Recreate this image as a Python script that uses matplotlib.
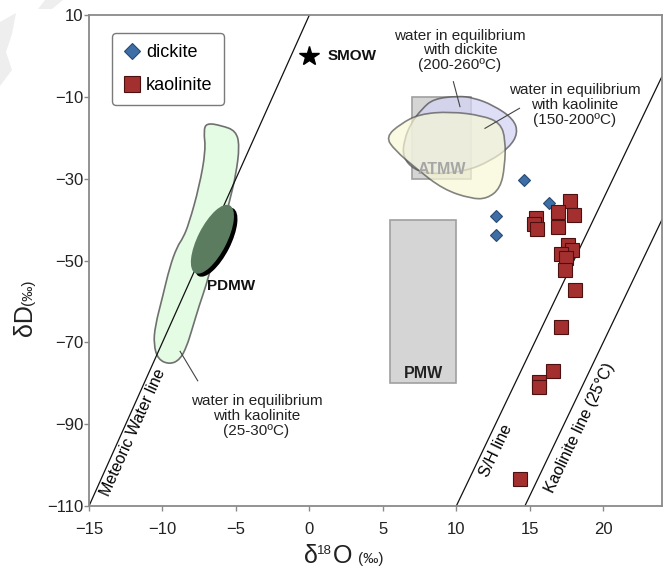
import numpy as np
import matplotlib
matplotlib.use("Agg")
import matplotlib.pyplot as plt
import matplotlib.transforms as mtransforms
from matplotlib.path import Path
from matplotlib.patches import PathPatch, Ellipse, Rectangle, Polygon
from matplotlib.lines import Line2D

plt.rcParams['font.family'] = ['Liberation Sans', 'DejaVu Sans']

# measured samples (d18O, dD), permil
dickite_d18O = [14.6, 16.3, 12.7, 12.7]
dickite_dD = [-30.3, -36.0, -39.1, -43.8]

kaolinite_d18O = [17.75, 18.0, 16.95, 16.9, 15.4, 15.3, 15.5, 17.6, 17.9, 17.1,
                  17.45, 17.4, 18.1, 17.1, 16.6, 15.6, 15.6, 14.35]
kaolinite_dD = [-35.5, -38.9, -38.2, -41.9, -39.7, -41.2, -42.4, -46.1, -47.5, -48.5,
                -49.5, -52.2, -57.1, -66.2, -77.0, -79.6, -80.9, -103.3]

# reference lines: dD = slope * d18O + intercept
mwl = (8.0, 10.0)
sh_line = (7.5, -185.0)
kaol_line = (7.5, -220.0)

# fields (outline points)
green_x = [-7.0, -6.0, -5.0, -4.75, -5.0, -5.4, -5.9, -6.5, -7.0, -7.5, -8.0, -8.35,
           -8.8, -9.5, -10.3, -10.6, -10.5, -10.0, -9.5, -9.0, -8.6, -8.2, -7.5, -7.05, -7.2]
green_y = [-16.4, -17.0, -18.3, -22, -29, -35, -42, -49, -55.8, -61, -67, -71,
           -74.2, -75.4, -74.2, -70.5, -66, -59, -51.5, -46.6, -44.5, -41, -32, -23, -18.3]

blue_x = [7.65, 8.44, 10.1, 11.15, 12.5, 13.9, 14.2, 13.6, 12.3, 10.7, 8.44, 7.1, 6.35, 6.45, 6.9]
blue_y = [-13.0, -10.5, -9.8, -10.2, -12.0, -15.4, -18.9, -22.4, -25.7, -28.1, -29.0, -27.8, -24.6, -20.6, -16.5]

yellow_x = [5.2, 6.2, 7.5, 9.6, 11.8, 13.0, 13.35, 13.3, 13.0, 12.1, 11.0, 9.1, 7.3, 5.8]
yellow_y = [-19.8, -16.6, -14.2, -13.6, -14.6, -16.4, -20.5, -27, -32.3, -34.9, -34.9, -32.6, -27.6, -23]

atmw_box = (7.0, -30.0, 11.0, -10.0)
pmw_box = (5.5, -80.0, 10.0, -40.0)
pdmw_center = (-6.6, -44.8)


def smooth_patch(xs, ys, **kw):
    pts = np.column_stack([xs, ys])
    mids = (pts + np.roll(pts, -1, axis=0)) / 2
    verts = [mids[-1]]
    codes = [Path.MOVETO]
    for p, m in zip(pts, mids):
        verts += [p, m]
        codes += [Path.CURVE3, Path.CURVE3]
    return PathPatch(Path(verts, codes), **kw)


W, H = 670, 568
fig = plt.figure(figsize=(W / 100, H / 100), dpi=100)
ax = fig.add_axes([89 / W, 1 - 506 / H, (662 - 89) / W, (506 - 15) / H])
ax.set_xlim(-15, 24)
ax.set_ylim(-110, 10)

# watermark remnants in the corner
for poly in ([(45, 0), (63, 0), (52, 9), (38, 9)],
             [(0, 22), (16, 13), (12, 34), (6, 52), (12, 70), (0, 86)]):
    fig.patches.append(Polygon([(x / W, 1 - y / H) for x, y in poly], closed=True,
                               transform=fig.transFigure, fc='#eeeeee', ec='none', zorder=0))

# boxes
for (x0, y0, x1, y1) in (atmw_box, pmw_box):
    ax.add_patch(Rectangle((x0, y0), x1 - x0, y1 - y0, fc='#d5d5d5', ec='#a0a0a0', lw=1.2, zorder=1))
ax.text(9.0, -27.8, 'ATMW', ha='center', va='center', fontsize=11.5, fontweight='bold',
        color='#a6a6a6', zorder=2.2)
ax.text(7.75, -77.6, 'PMW', ha='center', va='center', fontsize=11.5, fontweight='bold', color='#222222', zorder=1.5)

ax.add_patch(smooth_patch(blue_x, blue_y, fc='#d3d3f5', ec='#505050', lw=1.2, alpha=0.75, zorder=2))
ax.add_patch(smooth_patch(yellow_x, yellow_y, fc='#f8f8d6', ec='#505050', lw=1.2, alpha=0.7, zorder=2.1))
ax.add_patch(smooth_patch(green_x, green_y, fc='#e4fbe4', ec='#707070', lw=1.2, zorder=1))

# lines
xx = np.array([-15.0, 24.0])
for slope, icpt in (mwl, sh_line, kaol_line):
    ax.plot(xx, slope * xx + icpt, color='#111111', lw=0.9, zorder=2.5)

# PDMW ellipse with black shadow
for off, col in (((0.035, -0.03), 'black'), ((0.0, 0.0), '#5b7c5e')):
    tr = (mtransforms.Affine2D().translate(*off) + fig.dpi_scale_trans
          + mtransforms.ScaledTranslation(pdmw_center[0], pdmw_center[1], ax.transData))
    ax.add_patch(Ellipse((0, 0), 0.29, 0.76, angle=-27, transform=tr, fc=col, ec='none', zorder=3))
ax.text(-7.0, -56.2, 'PDMW', ha='left', va='center', fontsize=11, fontweight='bold', color='#111111', zorder=4)

# line labels
ax.text(-12.0, -92.0, 'Meteoric Water line', rotation=np.degrees(np.arctan(mwl[0])),
        transform_rotates_text=True, rotation_mode='anchor', ha='center', va='center', fontsize=11.5)
ax.text(12.74, -96.5, 'S/H line', rotation=np.degrees(np.arctan(sh_line[0])),
        transform_rotates_text=True, rotation_mode='anchor', ha='center', va='center', fontsize=11.5)
ax.text(18.4, -90.8, 'Kaolinite line (25°C)', rotation=np.degrees(np.arctan(kaol_line[0])),
        transform_rotates_text=True, rotation_mode='anchor', ha='center', va='center', fontsize=11.5)

# SMOW
ax.plot([0.0], [0.0], marker='*', ms=15, color='black', ls='none', zorder=5)
ax.text(1.25, 0.0, 'SMOW', ha='left', va='center', fontsize=11, fontweight='bold', color='#111111')

# annotations
ax.text(10.25, 1.4, 'water in equilibrium\nwith dickite\n(200-260ºC)', ha='center', va='center',
        fontsize=11, linespacing=1.05, color='#222222')
ax.plot([9.8, 10.25], [-6.3, -12.4], color='#444444', lw=0.8, zorder=4)
ax.text(18.05, -12.0, 'water in equilibrium\nwith kaolinite\n(150-200ºC)', ha='center', va='center',
        fontsize=11, linespacing=1.05, color='#222222')
ax.plot([14.3, 11.95], [-12.8, -17.7], color='#444444', lw=0.8, zorder=4)
ax.text(-3.6, -88.0, 'water in equilibrium\nwith kaolinite\n(25-30ºC)', ha='center', va='center',
        fontsize=11, linespacing=1.05, color='#222222')
ax.plot([-7.6, -8.8], [-79.4, -72.2], color='#444444', lw=0.8, zorder=4)

# samples
ax.plot(dickite_d18O, dickite_dD, ls='none', marker='D', ms=6.5, mfc='#3d6ea6', mec='#284a72',
        mew=0.8, zorder=6)
ax.plot(kaolinite_d18O, kaolinite_dD, ls='none', marker='s', ms=9.5, mfc='#a3302f', mec='#4d1010',
        mew=0.8, zorder=6)

# legend
handles = [Line2D([], [], ls='none', marker='D', ms=8, mfc='#3d6ea6', mec='#284a72', mew=0.8),
           Line2D([], [], ls='none', marker='s', ms=11, mfc='#a3302f', mec='#4d1010', mew=0.8)]
leg = ax.legend(handles, ['dickite', 'kaolinite'], loc='upper left', bbox_to_anchor=(0.04, 0.963),
                borderaxespad=0, fontsize=13, frameon=True, fancybox=True, edgecolor='#7a7a7a',
                handletextpad=0.3, handlelength=1.0, labelspacing=0.9, borderpad=0.6)
leg.get_frame().set_linewidth(1.0)
leg.get_frame().set_alpha(1)

# axes styling
ax.set_xticks(range(-15, 21, 5))
ax.set_yticks(range(-110, 11, 20))
for sp in ax.spines.values():
    sp.set_color('#8a8a8a')
    sp.set_linewidth(1.3)
ax.tick_params(direction='out', length=3.5, width=1, color='#8a8a8a', labelsize=12,
               labelcolor='#222222')
ax.tick_params(axis='x', pad=8)
ax.tick_params(axis='y', pad=0.5)

# axis labels
base = 1 - 563 / H
fig.text(304 / W, base, 'δ', fontsize=18, ha='left', va='baseline', color='#222222')
fig.text(317 / W, base + 9 / H, '18', fontsize=9.5, ha='left', va='baseline', color='#222222')
fig.text(333 / W, base, 'O', fontsize=18, ha='left', va='baseline', color='#222222')
fig.text(358 / W, base, '(‰)', fontsize=11, ha='left', va='baseline', color='#222222')
fig.text(32 / W, 1 - 336 / H, 'δD', fontsize=18, rotation=90, rotation_mode='anchor',
         ha='left', va='baseline', color='#222222')
fig.text(32 / W, 1 - 305 / H, '(‰)', fontsize=11, rotation=90, rotation_mode='anchor',
         ha='left', va='baseline', color='#222222')

fig.savefig('out.png', dpi=100)
